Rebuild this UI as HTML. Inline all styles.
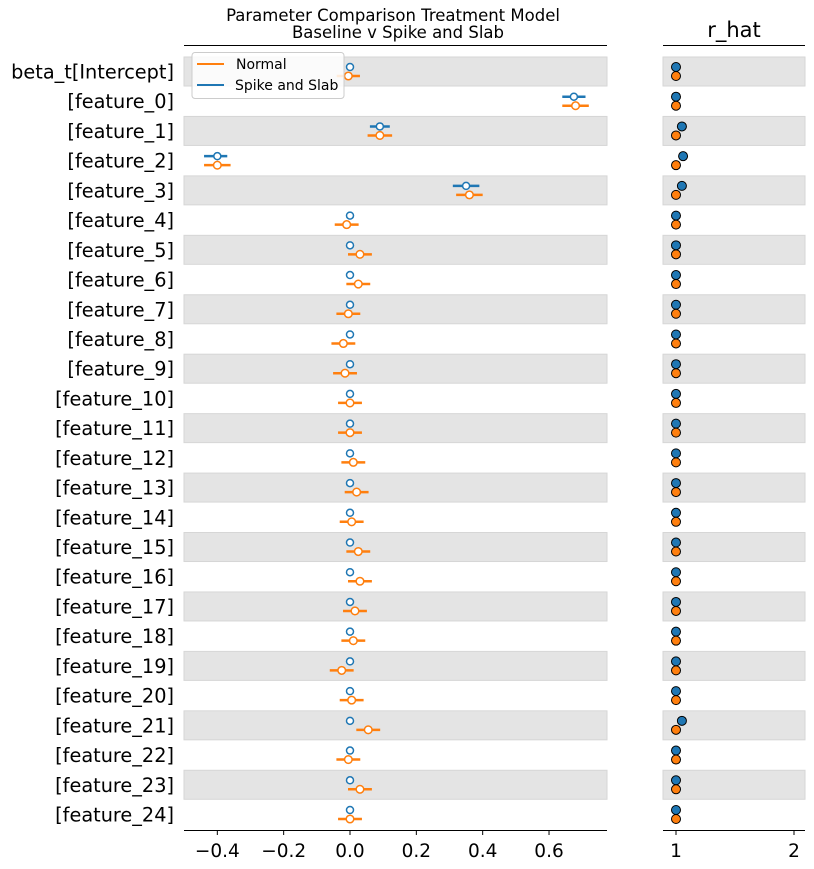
<!DOCTYPE html><html><head><style>body{margin:0;background:#fff}svg{display:block}text{font-family:"DejaVu Sans","Liberation Sans",sans-serif;fill:#000}</style></head><body>
<svg id="s" width="814" height="869" xmlns="http://www.w3.org/2000/svg"></svg>
<script>
const s=document.getElementById('s');let h='';
const X=v=>350+v*331.7, R=v=>676+(v-1)*118;
const names=['beta_t[Intercept]'];for(let i=0;i<25;i++)names.push('[feature_'+i+']');
const blue=[[0,0,0],[0.675,0.64,0.71],[0.09,0.06,0.12],[-0.40,-0.44,-0.37],[0.35,0.31,0.39]];
const orMid=[-0.005,0.68,0.09,-0.40,0.36,-0.01,0.03,0.025,-0.005,-0.02,-0.015,0,0,0.01,0.02,0.005,0.025,0.03,0.015,0.01,-0.025,0.005,0.055,-0.005,0.03,0];
const orHalf=[0.035,0.04,0.037,0.04,0.04];
const rb=[0,0,1.05,1.06,1.05];
for(let i=0;i<26;i++){
 const top=57+i*29.72, c=top+14.5;
 if(i%2==0){h+=`<rect x="184" y="${top}" width="423" height="29" fill="#e4e4e4" stroke="#d6d6d6"/>`;h+=`<rect x="663" y="${top}" width="142" height="29" fill="#e4e4e4" stroke="#d6d6d6"/>`;}
 h+=`<text x="174" y="${c+7}" font-size="19.3" text-anchor="end">${names[i]}</text>`;
 const by=c-4.5, oy=c+4.5;
 if(i<5&&i>0){h+=`<line x1="${X(blue[i][1])}" x2="${X(blue[i][2])}" y1="${by}" y2="${by}" stroke="#1f77b4" stroke-width="2.5"/>`;}
 h+=`<circle cx="${X(i<5?blue[i][0]:0)}" cy="${by}" r="3.5" fill="#fff" stroke="#1f77b4" stroke-width="1.5"/>`;
 const hw=i<5?orHalf[i]:0.036;
 h+=`<line x1="${X(orMid[i]-hw)}" x2="${X(orMid[i]+hw)}" y1="${oy}" y2="${oy}" stroke="#ff7f0e" stroke-width="2.5"/>`;
 h+=`<circle cx="${X(orMid[i])}" cy="${oy}" r="3.8" fill="#fff" stroke="#ff7f0e" stroke-width="1.5"/>`;
 const bv=(i<5?rb[i]:(i==22?1.05:1))||1;
 h+=`<circle cx="${R(bv)}" cy="${by}" r="4.5" fill="#1f77b4" stroke="#000" stroke-width="1"/>`;
 h+=`<circle cx="${R(1)}" cy="${oy}" r="4.5" fill="#ff7f0e" stroke="#000" stroke-width="1"/>`;
}
h+=`<line x1="184" x2="607" y1="45.5" y2="45.5" stroke="#000" stroke-width="1"/><line x1="663" x2="805" y1="45.5" y2="45.5" stroke="#000"/>`;
h+=`<line x1="184" x2="607" y1="830.5" y2="830.5" stroke="#000"/><line x1="663" x2="805" y1="830.5" y2="830.5" stroke="#000"/>`;
[[-0.4,'−0.4'],[-0.2,'−0.2'],[0,'0.0'],[0.2,'0.2'],[0.4,'0.4'],[0.6,'0.6']].forEach(([v,t])=>{h+=`<line x1="${X(v)}" x2="${X(v)}" y1="830" y2="835" stroke="#000"/><text x="${X(v)}" y="857" font-size="18.5" text-anchor="middle">${t}</text>`});
[1,2].forEach(v=>{h+=`<line x1="${R(v)}" x2="${R(v)}" y1="830" y2="835" stroke="#000"/><text x="${R(v)}" y="857" font-size="18.5" text-anchor="middle">${v}</text>`});
h+=`<text x="393" y="21" font-size="16.5" text-anchor="middle">Parameter Comparison Treatment Model</text><text x="398" y="38" font-size="16.5" text-anchor="middle">Baseline v Spike and Slab</text>`;
h+=`<text x="734" y="37" font-size="21" text-anchor="middle">r_hat</text>`;
h+=`<rect x="192" y="52.5" width="152" height="46" rx="3" fill="#fff" fill-opacity="0.85" stroke="#ccc"/>`;
h+=`<line x1="197" x2="224" y1="64" y2="64" stroke="#ff7f0e" stroke-width="2"/><text x="236" y="69" font-size="14">Normal</text>`;
h+=`<line x1="197" x2="224" y1="85" y2="85" stroke="#1f77b4" stroke-width="2"/><text x="235" y="90" font-size="14">Spike and Slab</text>`;
s.innerHTML=h;
</script></body></html>
